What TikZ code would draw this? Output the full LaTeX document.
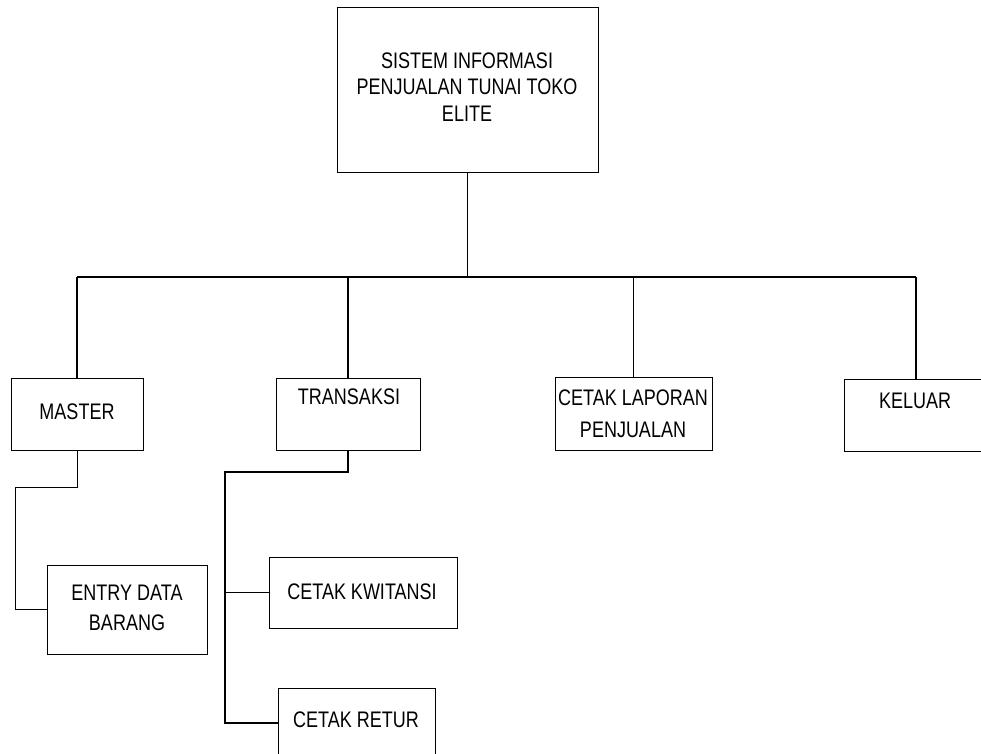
\documentclass[tikz,border=0pt]{standalone}
\usepackage{fontspec}
\setmainfont{Liberation Sans}[FakeStretch=0.8]
\begin{document}
\begin{tikzpicture}[x=1pt,y=-1pt,
  box/.style={draw, line width=1pt, minimum width=#1, inner sep=0pt},
  lbl/.style={align=center, inner sep=0pt, font=\fontsize{22.5}{#1}\selectfont},
  lbl/.default=26,
  con/.style={line width=1.6pt},
  thin/.style={line width=1pt}]
\useasboundingbox (0,0) rectangle (981,753);
% boxes
\node[box=261, minimum height=165] (top) at (467.5,89.5) {};
\node[lbl=26.5] (toptext) at (467,87) {SISTEM INFORMASI\\PENJUALAN TUNAI TOKO\\ELITE};
\node[box=132, minimum height=72] (master) at (77,414) {};
\node[lbl] (mastertext) at (77,412) {MASTER};
\node[box=144, minimum height=72] (trans) at (348,414) {};
\node[lbl] (transtext) at (349,397) {TRANSAKSI};
\node[box=157, minimum height=73] (lap) at (633.5,413.5) {};
\node[lbl=32] (laptext) at (633,414) {CETAK LAPORAN\\PENJUALAN};
\node[box=144, minimum height=72] (keluar) at (916,415) {};
\node[lbl] (keluartext) at (915,401) {KELUAR};
\node[box=160, minimum height=89] (entry) at (127,609.5) {};
\node[lbl=30] (entrytext) at (127,608) {ENTRY DATA\\BARANG};
\node[box=188, minimum height=71] (kw) at (363,592.5) {};
\node[lbl] (kwtext) at (362,592) {CETAK KWITANSI};
\node[box=157, minimum height=70] (retur) at (356.5,723) {};
\node[lbl] (returtext) at (356,720) {CETAK RETUR};
% connectors
\coordinate (busL) at (77,277);
\coordinate (busR) at (916,277);
\draw[con] (busL) -- (busR);
\draw[con] (top.south) -- (top.south |- busL);
\draw[con] (master.north) -- (master.north |- busL);
\draw[con] (trans.north) -- (trans.north |- busL);
\draw[con] (lap.north) -- (lap.north |- busL);
\draw[con] (keluar.north) -- (busR);
\coordinate (m1) at (15,487);
\draw[thin] (master.south) |- (m1) |- (entry.west);
\coordinate (t1) at (225,472);
\draw[con] (trans.south) |- (t1) |- (retur.west);
\draw[con] (t1 |- kw.west) -- (kw.west);
\end{tikzpicture}
\end{document}
